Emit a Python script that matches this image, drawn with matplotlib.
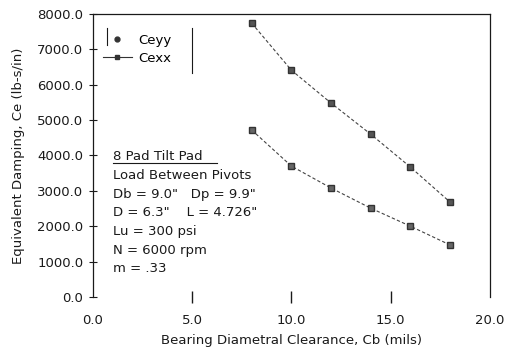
import matplotlib
matplotlib.use("Agg")
import matplotlib.pyplot as plt
from matplotlib.lines import Line2D

plt.rcParams['font.family'] = ['DejaVu Sans']

# clearance (mils) and damping (lb-s/in)
clearance = [8, 10, 12, 14, 16, 18]
ceyy = [7740, 6410, 5480, 4600, 3670, 2680]
cexx = [4720, 3700, 3080, 2510, 2000, 1470]

xticks = [0, 5, 10, 15, 20]
yticks = [0, 1000, 2000, 3000, 4000, 5000, 6000, 7000, 8000]

info_lines = ['Load Between Pivots',
              'Db = 9.0"   Dp = 9.9"',
              'D = 6.3"    L = 4.726"',
              'Lu = 300 psi',
              'N = 6000 rpm',
              'm = .33']

ink = '#1a1a1a'
fs = 9.5
fig = plt.figure(figsize=(5.05, 3.57), dpi=100)
ax = fig.add_axes([0.184, 0.168, 0.786, 0.793])

ax.plot(clearance, ceyy, color='#444444', lw=0.8, ls=(0, (3, 2)),
        marker='s', ms=4, mfc='#555555', mec='#333333')
ax.plot(clearance, cexx, color='#444444', lw=0.8, ls=(0, (3, 2)),
        marker='s', ms=5, mfc='#666666', mec='#333333')

ax.set_xlim(0, 20)
ax.set_ylim(0, 8000)
ax.set_xticks(xticks)
ax.set_yticks(yticks)
ax.set_xticklabels(['%.1f' % v for v in xticks])
ax.set_yticklabels(['%.1f' % v for v in yticks])
ax.tick_params(axis='y', direction='inout', length=6, width=0.8, pad=4,
               labelsize=fs, colors=ink)
ax.tick_params(axis='x', direction='inout', length=9, width=1.0, pad=8,
               labelsize=fs, colors=ink)
xt = ax.xaxis.get_major_ticks()
for t in (xt[0], xt[-1]):
    t.tick1line.set_visible(False)
ax.spines['bottom'].set_visible(False)
for s in ['left', 'top', 'right']:
    ax.spines[s].set_color(ink)
    ax.spines[s].set_linewidth(0.9)

ax.set_xlabel('Bearing Diametral Clearance, Cb (mils)', fontsize=fs,
              color=ink, labelpad=5)
ax.set_ylabel('Equivalent Damping, Ce (lb-s/in)', fontsize=fs,
              color=ink, labelpad=9)

# legend with vertical side bars
handles = [Line2D([], [], ls='none', marker='o', ms=3.5, color='#333333'),
           Line2D([], [], ls='-', lw=0.8, marker='s', ms=3.5, color='#333333')]
ax.legend(handles, ['Ceyy', 'Cexx'], loc='upper left',
          bbox_to_anchor=(0.025, 0.93), frameon=False, fontsize=fs,
          borderpad=0, borderaxespad=0, handlelength=2.2,
          handletextpad=0.5, labelspacing=0.4)
ax.plot([0.036, 0.036], [0.89, 0.95], transform=ax.transAxes,
        color=ink, lw=0.8)
ax.plot([0.25, 0.25], [0.79, 0.95], transform=ax.transAxes,
        color=ink, lw=0.8)

# annotation block
ax.text(0.05, 0.498, '8 Pad Tilt Pad', transform=ax.transAxes,
        fontsize=fs, color=ink, va='center')
ax.plot([0.05, 0.312], [0.474, 0.474], transform=ax.transAxes,
        color=ink, lw=0.8)
for i, line in enumerate(info_lines):
    ax.text(0.05, 0.428 - i * 0.0655, line, transform=ax.transAxes,
            fontsize=fs, color=ink, va='center')

fig.savefig('out.png', dpi=100)
